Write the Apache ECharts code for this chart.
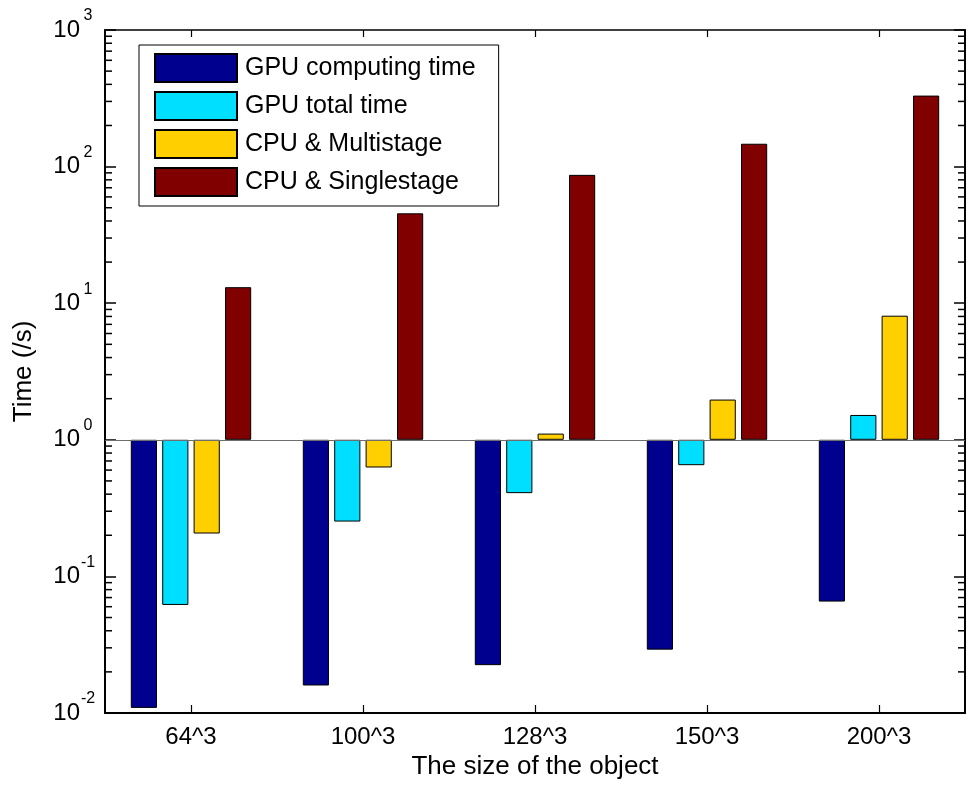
<!DOCTYPE html>
<html><head><meta charset="utf-8">
<script src="https://cdn.jsdelivr.net/npm/echarts@6/dist/echarts.min.js"></script>
<style>html,body{margin:0;padding:0;background:#fff}#c{width:968px;height:789px}</style>
</head><body><div id="c"></div>
<script>
const categories = ['64^3', '100^3', '128^3', '150^3', '200^3'];
const seriesNames = ['GPU computing time', 'GPU total time', 'CPU & Multistage', 'CPU & Singlestage'];
const gpuComputing = [0.0109, 0.0159, 0.0224, 0.0291, 0.0654];
const gpuTotal = [0.0618, 0.252, 0.407, 0.652, 1.52];
const cpuMulti = [0.206, 0.627, 1.11, 1.97, 8.1];
const cpuSingle = [13.1, 45.5, 87, 147, 331];
const majorTicks = [0.01, 0.1, 1, 10, 100, 1000];
const minorTicks = [0.02, 0.03, 0.04, 0.05, 0.06, 0.07, 0.08, 0.09,
  0.2, 0.3, 0.4, 0.5, 0.6, 0.7, 0.8, 0.9,
  2, 3, 4, 5, 6, 7, 8, 9,
  20, 30, 40, 50, 60, 70, 80, 90,
  200, 300, 400, 500, 600, 700, 800, 900];
const colors = ['#00008F', '#00DFFF', '#FFCF00', '#800000'];

const FF = '"Liberation Sans", Arial, Helvetica, sans-serif';
const chart = echarts.init(document.getElementById('c'));

const yMin = majorTicks[0], yMax = majorTicks[majorTicks.length - 1];
const gridOpt = {left: 105, right: 3, top: 30, bottom: 76, containLabel: false};

const seriesData = [gpuComputing, gpuTotal, cpuMulti, cpuSingle];
const series = seriesData.map((d, i) => ({
  name: seriesNames[i], type: 'bar', data: d, xAxisIndex: 0, yAxisIndex: 0,
  barCategoryGap: '30%', barGap: '20%',
  itemStyle: {color: colors[i], borderColor: '#000', borderWidth: 1},
  emphasis: {disabled: true},
  markLine: i === 0 ? {
    silent: true, symbol: 'none', label: {show: false}, animation: false,
    lineStyle: {color: '#6e6e6e', width: 1.2, type: 'solid'},
    data: [{yAxis: 1}]
  } : undefined
}));

chart.setOption({
  animation: false,
  backgroundColor: '#fff',
  textStyle: {fontFamily: FF},
  grid: gridOpt,
  legend: {
    data: seriesNames, orient: 'vertical', left: 139, top: 45,
    padding: [8, 23, 9, 15], itemWidth: 82, itemHeight: 28, itemGap: 8,
    borderColor: '#000', borderWidth: 1, backgroundColor: '#fff',
    icon: 'rect',
    textStyle: {fontSize: 25, color: '#000', fontFamily: FF, padding: [0, 0, 0, 3]}
  },
  xAxis: [
    {
      type: 'category', data: categories, position: 'bottom',
      axisLine: {show: true, onZero: false, lineStyle: {color: '#000', width: 2}},
      axisTick: {show: true, inside: true, alignWithLabel: true, length: 8, lineStyle: {color: '#000', width: 1.2}},
      axisLabel: {fontSize: 24, color: '#000', margin: 12, fontFamily: FF},
      name: 'The size of the object', nameLocation: 'middle', nameGap: 41,
      nameTextStyle: {fontSize: 26, color: '#000', fontFamily: FF}
    },
    {
      type: 'category', data: categories, position: 'top',
      axisLine: {show: true, onZero: false, lineStyle: {color: '#000', width: 1.5}},
      axisTick: {show: true, inside: true, alignWithLabel: true, length: 7, lineStyle: {color: '#000', width: 1.2}},
      axisLabel: {show: false}
    }
  ],
  yAxis: [
    {
      type: 'log', logBase: 10, min: yMin, max: yMax, position: 'left',
      axisLine: {show: true, onZero: false, lineStyle: {color: '#000', width: 2}},
      axisTick: {show: true, inside: true, length: 11, lineStyle: {color: '#000', width: 1.5}},
      splitLine: {show: false},
      axisLabel: {
        show: true, margin: 9, color: '#000',
        formatter: function (v) {
          const e = Math.round(Math.log10(v));
          return '{b|10}{s|' + e + '}';
        },
        rich: {
          b: {fontSize: 24, fontFamily: FF, color: '#000', lineHeight: 44},
          s: {fontSize: 16, fontFamily: FF, color: '#000', lineHeight: 16, verticalAlign: 'top', width: 16, align: 'left'}
        }
      },
      name: 'Time (/s)', nameLocation: 'middle', nameGap: 68,
      nameTextStyle: {fontSize: 26, color: '#000', fontFamily: FF}
    },
    {
      type: 'log', logBase: 10, min: yMin, max: yMax, position: 'right',
      axisLine: {show: true, onZero: false, lineStyle: {color: '#000', width: 2}},
      axisTick: {show: true, inside: true, length: 11, lineStyle: {color: '#000', width: 1.5}},
      axisLabel: {show: false}, splitLine: {show: false}
    }
  ],
  series: series
});

// minor log ticks on both frame edges, positioned through the chart's own log y scale
(function () {
  let rx, rw;
  try {
    const rect = chart.getModel().getComponent('grid', 0).coordinateSystem.getRect();
    rx = rect.x; rw = rect.width;
  } catch (e) {
    rx = gridOpt.left; rw = chart.getWidth() - gridOpt.left - gridOpt.right;
  }
  const els = [];
  minorTicks.forEach(function (v) {
    const y = chart.convertToPixel({yAxisIndex: 0}, v);
    if (!isFinite(y)) return;
    const st = {stroke: '#000', lineWidth: 1.5};
    els.push({type: 'line', silent: true, z: 10, shape: {x1: rx, y1: y, x2: rx + 7, y2: y}, style: st});
    els.push({type: 'line', silent: true, z: 10, shape: {x1: rx + rw, y1: y, x2: rx + rw - 7, y2: y}, style: st});
  });
  chart.setOption({graphic: {elements: els}});
})();
</script>
</body></html>
